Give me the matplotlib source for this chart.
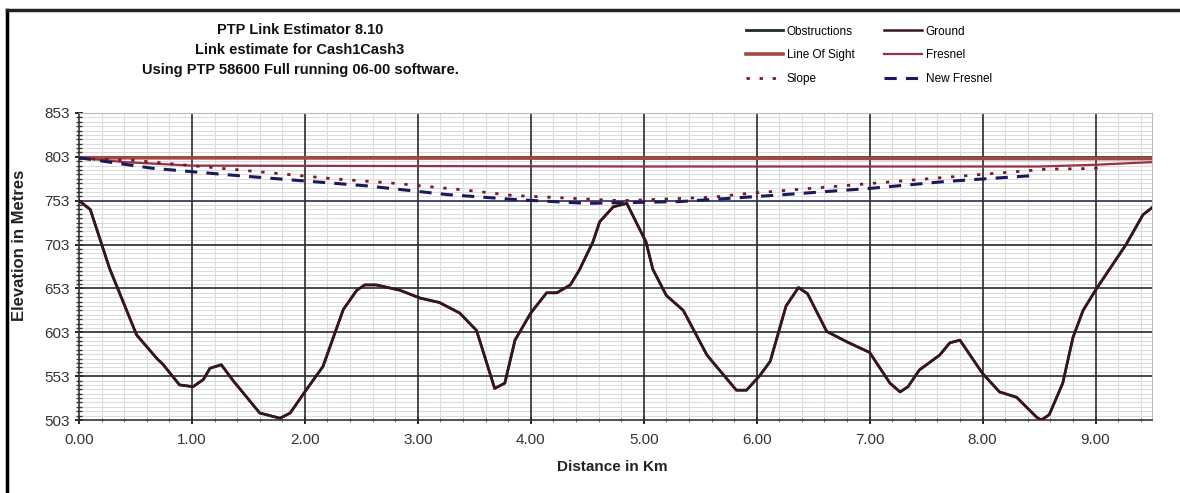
import numpy as np
import matplotlib
matplotlib.use('Agg')
import matplotlib.pyplot as plt
from matplotlib.lines import Line2D
from matplotlib.ticker import MultipleLocator, FixedLocator

# Ground profile (km, metres)
ground_km = [0.00, 0.10, 0.27, 0.51, 0.69, 0.74, 0.89, 1.01, 1.10, 1.16, 1.26, 1.37,
             1.60, 1.78, 1.87, 2.01, 2.16, 2.34, 2.46, 2.53, 2.63, 2.84, 3.02, 3.19,
             3.37, 3.52, 3.68, 3.77, 3.86, 4.00, 4.14, 4.23, 4.35, 4.43, 4.55, 4.61,
             4.73, 4.85, 5.02, 5.08, 5.20, 5.35, 5.56, 5.67, 5.82, 5.91, 6.03, 6.12,
             6.26, 6.37, 6.45, 6.62, 6.80, 7.00, 7.18, 7.27, 7.34, 7.44, 7.62, 7.71,
             7.80, 8.00, 8.15, 8.30, 8.48, 8.52, 8.59, 8.71, 8.80, 8.89, 9.01, 9.27,
             9.42, 9.50]
ground_m = [753, 743, 676, 600, 573, 567, 543, 541, 549, 562, 566, 547,
            511, 505, 511, 537, 564, 629, 651, 657, 657, 651, 642, 637,
            625, 605, 539, 545, 594, 625, 648, 648, 657, 674, 706, 729,
            746, 750, 706, 675, 645, 628, 577, 560, 537, 537, 554, 570,
            633, 654, 647, 604, 592, 580, 545, 535, 541, 560, 577, 591,
            594, 556, 535, 529, 506, 503, 509, 545, 597, 628, 653, 703,
            737, 745]

# Line of sight and Fresnel clearance
los_km = [0.00, 9.50]
los_m = [802, 801]
fresnel_km = [0.00, 0.40, 1.00, 5.00, 8.50, 9.00, 9.50]
fresnel_m = [802, 797, 793, 792, 792, 794, 797]

# Slope and new Fresnel
slope_km = [0.00, 0.48, 1.60, 2.25, 2.78, 3.43, 3.84, 4.80, 5.61, 5.90, 6.76, 7.80, 8.57, 9.10]
slope_m = [801, 799, 786, 778, 773, 765, 759, 753, 757, 761, 770, 781, 789, 790]
newf_km = [0.00, 0.65, 1.37, 1.95, 2.54, 3.26, 3.90, 4.50, 5.32, 6.14, 7.00, 7.68, 8.49]
newf_m = [802, 790, 782, 776, 770, 760, 754, 750, 752, 759, 767, 775, 782]

elev_ticks = [503, 553, 603, 653, 703, 753, 803, 853]
title_lines = ['PTP Link Estimator 8.10',
               'Link estimate for Cash1Cash3',
               'Using PTP 58600 Full running 06-00 software.']

plt.rcParams['font.family'] = ['Liberation Sans Narrow', 'Liberation Sans', 'DejaVu Sans']

fig = plt.figure(figsize=(11.8, 4.93), dpi=100)
ax = fig.add_axes([79/1180, 73/493, (1152-79)/1180, (420-113)/493])

ax.plot(ground_km, ground_m, color='#1e2a28', lw=2.0, label='Obstructions', zorder=3)
ax.plot(ground_km, ground_m, color='#3a1418', lw=1.8, label='Ground', zorder=4)
ax.plot(los_km, los_m, color='#a04a40', lw=2.6, label='Line Of Sight', zorder=3)
ax.plot(fresnel_km, fresnel_m, color='#9a3048', lw=1.6, label='Fresnel', zorder=3)
ax.plot(slope_km, slope_m, color='#7a1a28', lw=2.0, ls=(0, (1.2, 3.5)), label='Slope', zorder=3)
ax.plot(newf_km, newf_m, color='#1a1a5a', lw=2.2, ls=(0, (4, 3)), label='New Fresnel', zorder=3)

ax.set_xlim(0, 9.5)
ax.set_ylim(503, 853)
ax.xaxis.set_major_locator(MultipleLocator(1))
ax.xaxis.set_minor_locator(MultipleLocator(0.2))
ax.yaxis.set_major_locator(FixedLocator(elev_ticks))
ax.yaxis.set_minor_locator(FixedLocator(np.arange(503, 854, 5)))
ax.xaxis.set_major_formatter(matplotlib.ticker.FormatStrFormatter('%.2f'))

# light minor grid, then dark major lines on top of it
ax.grid(which='minor', color='#dcdcdc', lw=0.8, zorder=0)
ax.set_axisbelow(True)
for k in range(1, 10):
    ax.axvline(k, color='#2a2a2a', lw=1.2, zorder=1.5)
for e in elev_ticks[1:-1]:
    ax.axhline(e, color='#2a2a60' if e == 753 else '#2a2a2a', lw=1.2, zorder=1.5)

ax.tick_params(axis='y', which='major', length=6, width=1.2, labelsize=11, direction='inout')
ax.tick_params(axis='y', which='minor', length=4, width=1.0, color='#333333', direction='inout')
ax.tick_params(axis='x', which='major', length=6, width=1.2, labelsize=11, direction='inout', pad=6)
ax.tick_params(axis='x', which='minor', length=3, color='#555555', direction='inout')
for lbl in ax.get_xticklabels() + ax.get_yticklabels():
    lbl.set_color('#333333')

for s in ['top', 'right']:
    ax.spines[s].set_color('#bbbbbb')
for s in ['left', 'bottom']:
    ax.spines[s].set_color('#333333')
    ax.spines[s].set_linewidth(1.2)

fig.text(20/1180, 1 - 245/493, 'Elevation in Metres', rotation=90, ha='center', va='center',
         fontsize=12, fontweight='bold', color='#222222')
fig.text(612/1180, 1 - 467/493, 'Distance in Km', ha='center', va='center',
         fontsize=11, fontweight='bold', color='#222222')

for i, t in enumerate(title_lines):
    fig.text(300/1180, 1 - (30 + 20*i)/493, t, ha='center', va='center',
             fontsize=10.5, fontweight='bold', color='#111111')

# legend in two columns
handles, labels = ax.get_legend_handles_labels()
order = [0, 2, 4, 1, 3, 5]
fig.legend([handles[i] for i in order], [labels[i] for i in order], ncol=2,
           loc='upper left', bbox_to_anchor=(735/1180, 1 - 15/493), frameon=False,
           fontsize=8.5, handlelength=3.2, columnspacing=2.5, labelspacing=1.0, handletextpad=0.3)

# outer frame
fig.add_artist(Line2D([7/1180, 7/1180], [0, 1 - 10/493], color='black', lw=2.5, transform=fig.transFigure))
fig.add_artist(Line2D([7/1180, 1], [1 - 10/493, 1 - 10/493], color='#222222', lw=2.5, transform=fig.transFigure))

fig.savefig('out.png', dpi=100)
